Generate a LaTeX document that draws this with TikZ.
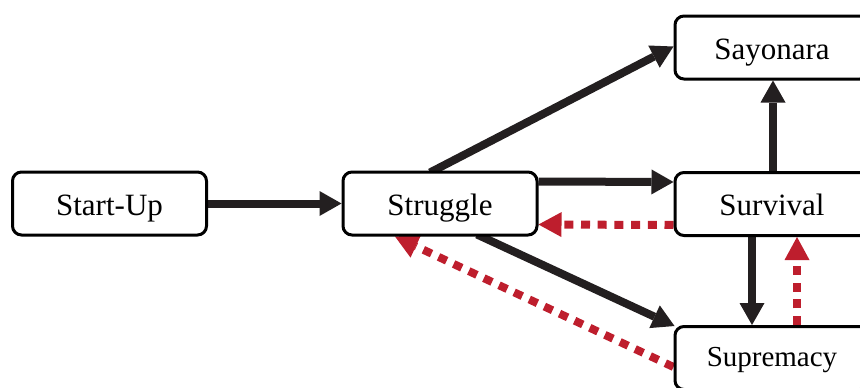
\documentclass[tikz,border=0pt]{standalone}
\usepackage{fontspec}
\setmainfont{Liberation Serif}
\usetikzlibrary{arrows.meta,backgrounds}

\definecolor{inkblack}{HTML}{231F20}
\definecolor{backred}{HTML}{BE1E2D}

\tikzset{
  stage/.style={draw=black, line width=3pt, fill=white, rounded corners=9pt,
    minimum width=194pt, minimum height=63pt, inner sep=0pt,
    text height=23pt, text depth=0pt,
    font=\fontsize{31}{36}\selectfont},
  forward/.style={draw=inkblack, line width=8pt,
    -{Triangle[length=22pt,width=25pt,line width=0pt]}},
  fallback/.style={draw=backred, line width=8pt, dash pattern=on 9pt off 7.7pt,
    -{Triangle[length=23pt,width=25pt,line width=0pt]}},
}

\begin{document}
\begin{tikzpicture}[x=1pt, y=-1pt]
  \useasboundingbox (0,0) rectangle (860,388);
  \clip (0,0) rectangle (860,388);

  % stages of the life cycle
  \node[stage] (startup)   at (109.5,203.5) {Start-Up};
  \node[stage] (struggle)  at (440,203.5)   {Struggle};
  \node[stage] (sayonara)  at (772,47.5)    {Sayonara};
  \node[stage] (survival)  at (772,204)     {Survival};
  \node[stage, text height=16pt, font=\fontsize{29}{34}\selectfont] (supremacy) at (772,358) {Supremacy};

  % transitions, kept underneath the boxes
  \begin{scope}[on background layer]
    \draw[forward] (startup.east) -- (struggle.west);
    \draw[forward] ([yshift=22pt]struggle.east) -- ([yshift=22pt]survival.west);
    \draw[forward] ([xshift=-10pt,yshift=-2pt]struggle.north) -- ([yshift=1pt]sayonara.west);
    \draw[forward] ([xshift=37pt,yshift=2pt]struggle.south) -- ([xshift=1pt,yshift=-1pt]supremacy.north west);
    \draw[forward] ([xshift=1pt]survival.north) -- ([xshift=1pt]sayonara.south);
    \draw[forward] ([xshift=-20pt]survival.south) -- ([xshift=-20pt]supremacy.north);

    \draw[fallback] ([yshift=-21pt]survival.west) -- ([yshift=-21pt]struggle.east);
    \draw[fallback] ([yshift=-9pt]supremacy.west) -- ([xshift=-45pt]struggle.south);
    \draw[fallback] ([xshift=25pt]supremacy.north) -- ([xshift=25pt]survival.south);
  \end{scope}
\end{tikzpicture}
\end{document}
